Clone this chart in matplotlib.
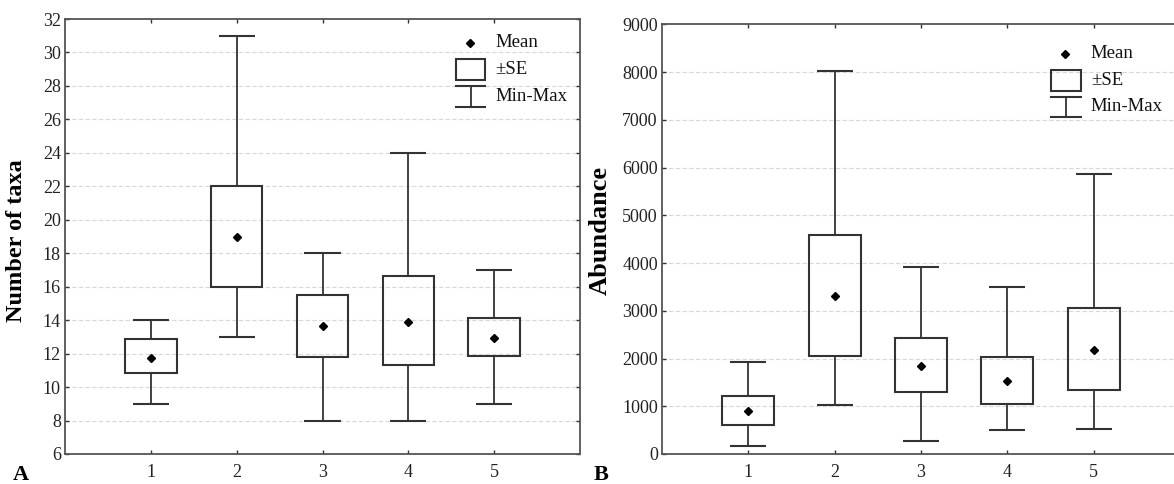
import matplotlib
matplotlib.use("Agg")
import matplotlib.pyplot as plt
from matplotlib.patches import Rectangle
from matplotlib.lines import Line2D

plt.rcParams['font.family'] = ['Liberation Serif', 'DejaVu Serif']

groups = [1, 2, 3, 4, 5]

# Panel A: Number of taxa
taxa_mean = [11.76, 19.0, 13.65, 13.91, 12.93]
taxa_se_low = [10.82, 16.0, 11.82, 11.32, 11.86]
taxa_se_high = [12.86, 22.0, 15.52, 16.62, 14.11]
taxa_min = [9, 13, 8, 8, 9]
taxa_max = [14, 31, 18, 24, 17]
taxa_yticks = list(range(6, 33, 2))

# Panel B: Abundance
abund_mean = [894, 3316, 1850, 1522, 2185]
abund_se_low = [601, 2046, 1292, 1047, 1340]
abund_se_high = [1215, 4581, 2423, 2025, 3058]
abund_min = [168, 1026, 279, 496, 524]
abund_max = [1927, 8029, 3917, 3491, 5865]
abund_yticks = list(range(0, 9001, 1000))

EDGE = '#333333'
W_BOX = 0.6
W_CAP = 0.42


def draw_panel(ax, mean, lo, hi, mn, mx, yticks, ylabel, lsize):
    ax.set_xlim(0, 6)
    ax.set_ylim(yticks[0], yticks[-1])
    ax.set_yticks(yticks)
    ax.set_xticks(groups)
    for y in yticks[1:-1]:
        ax.axhline(y, color='#d8d8d8', lw=0.8, ls=(0, (4, 2)), zorder=0)
    ax.bar(groups, [h - l for h, l in zip(hi, lo)], bottom=lo, width=W_BOX,
           fill=False, edgecolor=EDGE, linewidth=1.5, zorder=3)
    ax.vlines(groups, mn, lo, color=EDGE, lw=1.3, zorder=3)
    ax.vlines(groups, hi, mx, color=EDGE, lw=1.3, zorder=3)
    ax.hlines(mn, [g - W_CAP / 2 for g in groups], [g + W_CAP / 2 for g in groups],
              color=EDGE, lw=1.5, zorder=3)
    ax.hlines(mx, [g - W_CAP / 2 for g in groups], [g + W_CAP / 2 for g in groups],
              color=EDGE, lw=1.5, zorder=3)
    ax.plot(groups, mean, ls='none', marker='D', ms=4.5, color='black', zorder=4)
    ax.tick_params(direction='in', top=True, right=True, length=3, width=1,
                   labelsize=13, color=EDGE, pad=3, labelcolor='#222222')
    ax.tick_params(axis='x', pad=7)
    for s in ax.spines.values():
        s.set_color('#555555')
        s.set_linewidth(1.3)
    ax.set_ylabel(ylabel, fontsize=lsize, fontweight='bold')


def draw_legend(ax, xm, ym, bx0, bx1, by0, by1, iy0, iy1, tx, ty):
    tr = ax.transAxes
    ax.add_line(Line2D([xm], [ym], transform=tr, marker='D', ms=4, color='black', ls='none'))
    ax.add_patch(Rectangle((bx0, by0), bx1 - bx0, by1 - by0, transform=tr, fill=False,
                           edgecolor=EDGE, lw=1.5, zorder=5))
    xc = (bx0 + bx1) / 2
    ax.add_line(Line2D([xc, xc], [iy0, iy1], transform=tr, color=EDGE, lw=1.3))
    ax.add_line(Line2D([bx0, bx1], [iy0, iy0], transform=tr, color=EDGE, lw=1.5))
    ax.add_line(Line2D([bx0, bx1], [iy1, iy1], transform=tr, color=EDGE, lw=1.5))
    for t, y in zip(['Mean', '\u00b1SE', 'Min-Max'], ty):
        ax.text(tx, y, t, transform=tr, fontsize=13.5, va='center', ha='left', color='#111111')


fig = plt.figure(figsize=(11.74, 4.84), dpi=100)
axA = fig.add_axes([65 / 1174, 1 - 454 / 484, 515 / 1174, 435 / 484])
axB = fig.add_axes([662 / 1174, 1 - 454 / 484, 518 / 1174, 429.7 / 484])

draw_panel(axA, taxa_mean, taxa_se_low, taxa_se_high, taxa_min, taxa_max,
           taxa_yticks, 'Number of taxa', 17.5)
draw_panel(axB, abund_mean, abund_se_low, abund_se_high, abund_min, abund_max,
           abund_yticks, 'Abundance', 19)
axA.yaxis.set_label_coords(-0.074, 0.49)
axB.yaxis.set_label_coords(-0.097, 0.52)

draw_legend(axA, 0.786, 0.945, 0.759, 0.816, 0.860, 0.908, 0.798, 0.846, 0.835,
            [0.945, 0.884, 0.822])
draw_legend(axB, 0.778, 0.931, 0.751, 0.809, 0.845, 0.894, 0.784, 0.831, 0.828,
            [0.931, 0.870, 0.808])

fig.text(13 / 1174, 1 - 475 / 484, 'A', fontsize=16, fontweight='bold', va='center')
fig.text(594 / 1174, 1 - 475 / 484, 'B', fontsize=16, fontweight='bold', va='center')

fig.savefig('out.png', dpi=100)
